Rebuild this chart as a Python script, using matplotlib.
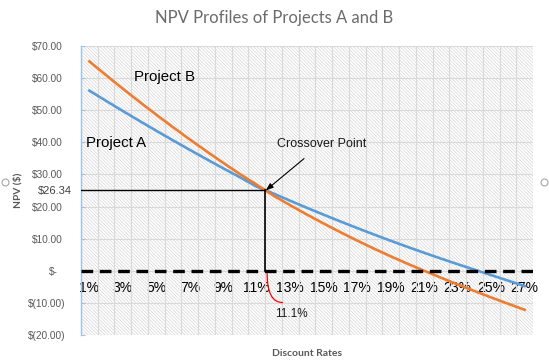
import matplotlib
matplotlib.use("Agg")
import matplotlib.pyplot as plt
from matplotlib.lines import Line2D
from matplotlib.patches import Rectangle
from matplotlib.transforms import ScaledTranslation

# data
rates = list(range(1, 28))
npv_a = [56.1, 52.9, 49.75, 46.65, 43.6, 40.6, 37.65, 34.75, 31.9, 29.1, 26.2, 24.05,
         21.8, 19.6, 17.45, 15.35, 13.3, 11.3, 9.35, 7.45, 5.6, 3.8, 2.05, 0.35,
         -1.35, -3.05, -4.75]
npv_b = [65.2, 60.9, 56.7, 52.6, 48.6, 44.7, 40.9, 37.2, 33.6, 30.1, 26.8, 23.4,
         20.4, 17.5, 14.7, 12.0, 9.4, 6.9, 4.5, 2.2, 0.0, -2.15, -4.25, -6.3,
         -8.3, -10.25, -12.15]
x_ticks = [1, 3, 5, 7, 9, 11, 13, 15, 17, 19, 21, 23, 25, 27]
x_labels = ["1%", "3%", "5%", "7%", "9%", "11%", "13%", "15%", "17%", "19%",
            "21%", "23%", "25%", "27%"]
y_ticks = [70, 60, 50, 40, 30, 20, 10, 0, -10, -20]
y_labels = ["$70.00", "$60.00", "$50.00", "$40.00", "$30.00", "$20.00", "$10.00",
            "$-", "$(10.00)", "$(20.00)"]

# crossover as drawn on the chart
cross_x = 11.5
cross_y = 25.1

plt.rcParams["font.family"] = ["Liberation Sans", "DejaVu Sans"]
plt.rcParams["hatch.linewidth"] = 0.5

fig = plt.figure(figsize=(5.49, 3.61), dpi=100)
ax = fig.add_axes([81 / 549, 26 / 361, 452 / 549, 289 / 361])

# hatched plot area (hatch colour follows the edge colour)
ax.add_patch(Rectangle((0, 0), 1, 1, transform=ax.transAxes, facecolor="white",
                       edgecolor="#d6d6d6", lw=0, hatch="\\" * 10, zorder=0.1))

ax.plot(rates, npv_a, color="#5B9BD5", lw=1.9, zorder=3)
ax.plot(rates, npv_b, color="#ED7D31", lw=1.9, zorder=3)

# zero line
ax.axhline(0, color="black", lw=2.4, dashes=(3.5, 2.0), zorder=4)

ax.set_xlim(0.5, 27.5)
ax.set_ylim(-20, 70)

ax.set_xticks(x_ticks)
ax.set_xticklabels(x_labels, family="Lato", fontsize=5.5, color="#7f7f7f")
ax.set_xticks([r + 0.5 for r in rates], minor=True)
ax.tick_params(axis="x", which="both", length=0, pad=7)

ax.set_yticks(y_ticks)
ax.set_yticklabels(y_labels, fontsize=7.3, color="#595959")
ax.tick_params(axis="y", direction="in", length=3, color="#9DC3E6", pad=11)

ax.grid(which="minor", axis="x", color="#d9d9d9", lw=0.8)
ax.grid(which="major", axis="y", color="#d9d9d9", lw=0.8)
ax.set_axisbelow(True)

for s in ["top", "right"]:
    ax.spines[s].set_visible(False)
ax.spines["bottom"].set_position(("data", 0))
ax.spines["bottom"].set_visible(False)
ax.spines["left"].set_color("#9DC3E6")
ax.spines["left"].set_linewidth(1.0)

# crossover guide lines
ax.plot([0.5, cross_x], [cross_y, cross_y], color="black", lw=1.0, zorder=5)
ax.plot([cross_x, cross_x], [cross_y, 0], color="black", lw=1.2, zorder=5)

ax.annotate("Crossover Point", xy=(cross_x + 0.03, cross_y - 0.1), xytext=(14.9, 39.6),
            ha="center", va="center", fontsize=9, color="#1a1a1a",
            arrowprops=dict(arrowstyle="-|>,head_length=0.5,head_width=0.18",
                            color="black", lw=0.8, shrinkA=7, shrinkB=0))

ax.text(3.67, 60.5, "Project B", fontsize=10.8, ha="left", va="center", color="black")
ax.text(0.8, 39.8, "Project A", fontsize=10.8, ha="left", va="center", color="black")

ax.annotate("", xy=(12.55, -9.9), xytext=(11.62, -0.9),
            arrowprops=dict(arrowstyle="-", color="red", lw=0.9, shrinkA=0, shrinkB=0,
                            connectionstyle="angle3,angleA=90,angleB=0"))
ax.text(12.1, -13.4, "11.1%", fontsize=8.5, ha="left", va="center", color="#1a1a1a")

fig.text(72 / 549, 1 - 191 / 361, "$26.34", fontsize=8, ha="right", va="center",
         color="#404040")

ax.set_xlabel("Discount Rates", family="Lato", fontsize=7.5, fontweight="bold",
              color="#595959", va="center")
ax.xaxis.set_label_coords(0.5, -18 / 289)
ax.set_ylabel("NPV ($)", family="Lato", fontsize=7.3, fontweight="bold",
              color="#595959", va="center")
ax.yaxis.set_label_coords(-63 / 452, 145 / 289)

fig.text(274 / 549, 1 - 18 / 361, "NPV Profiles of Projects A and B", family="Lato",
         fontsize=12, ha="center", va="center", color="#6b6b6b")

# chart selection handles
for hx in [5, 544]:
    fig.add_artist(Line2D([hx / 549], [1 - 182 / 361], marker="o", ms=5, mfc="white",
                          mec="#a6a6a6", mew=0.8, transform=fig.transFigure))

# accounting-style alignment of the y labels
for lab in ax.get_yticklabels():
    t = lab.get_text()
    if t.startswith("$("):
        dx = 0
    elif t == "$-":
        dx = -8 / 100
    else:
        dx = -3 / 100
    lab.set_transform(lab.get_transform() + ScaledTranslation(dx, 0, fig.dpi_scale_trans))

fig.savefig("out.png", dpi=100)
